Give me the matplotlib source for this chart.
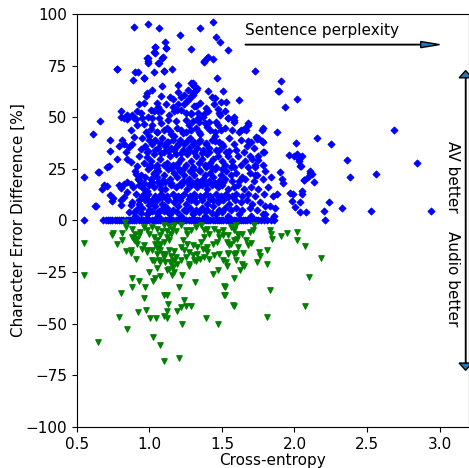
import matplotlib
matplotlib.use("Agg")
import matplotlib.pyplot as plt

# blue: AV better (diamonds)
av_x = [
    0.896, 0.993, 1.063, 1.347, 1.435, 1.21, 1.458, 1.486, 1.54, 1.285, 1.109, 1.116,
    1.037, 1.032, 1.095, 1.065, 0.991, 0.991, 1.03, 1.1, 1.155, 0.903, 0.92, 0.886,
    0.965, 0.776, 1.377, 1.40, 1.465, 0.611, 0.66, 0.648, 0.551, 0.63,
    1.731, 1.905, 1.889, 1.896, 2.016, 1.933, 1.62, 2.685, 2.155, 2.25, 2.01, 1.877,
    1.783, 2.847, 2.359, 2.562, 2.384, 2.0, 2.05, 2.03, 2.044, 2.107, 2.11, 2.067,
    2.137, 2.05, 2.05, 1.99, 1.986, 2.04, 2.007, 2.04, 2.08, 2.238, 2.206, 2.331,
    2.525, 2.94, 1.863, 1.898, 1.914, 1.92, 1.97, 1.88, 1.794, 1.794, 1.79, 1.75,
    1.69, 1.78, 1.73, 1.73, 1.68, 1.655, 1.736, 1.74, 1.68,
    1.963, 2.02, 2.03, 2.04, 2.118, 2.095, 2.065, 1.778, 1.776, 1.78, 1.78, 1.75,
    1.665, 1.63, 1.586, 1.54,
    1.04, 1.113, 1.037, 0.986, 0.99, 1.09, 1.062, 0.773, 0.963, 1.102,
    1.194, 1.287, 1.31, 1.269, 1.299, 1.322, 1.241, 1.218, 1.09, 1.021, 0.986, 0.975,
    1.079, 1.113, 1.16, 1.194, 1.241, 1.275, 1.31, 1.333, 1.287, 1.218, 1.171, 1.137,
    1.079, 1.056, 1.032, 1.009, 0.963, 0.928, 0.917, 0.94, 0.882, 0.843, 0.801, 0.824,
    0.847, 0.894, 0.951, 1.021, 1.067, 1.125, 1.19, 1.252, 1.299, 1.345,
    1.405, 1.378, 1.435, 1.297, 1.308, 1.32, 1.297, 1.331, 1.285, 1.401, 1.452, 1.505,
    1.493, 1.528, 1.447, 1.32, 1.389, 1.401, 1.373, 1.482, 1.489, 1.544, 1.586, 1.285,
    1.336, 1.343, 1.412, 1.459, 1.678,
    0.731, 0.813, 0.824, 0.789, 0.731, 0.778, 0.72, 0.704, 0.65, 0.627, 0.685, 0.708,
    0.674, 0.731, 0.75, 0.743, 0.789, 0.801, 0.824, 0.847, 0.87, 0.847, 0.824, 0.801,
    0.801, 0.87, 0.859, 0.894, 0.917, 0.928, 0.963, 0.986, 0.951, 0.928, 0.905, 0.917,
    0.87, 0.847, 0.836, 0.859, 0.882, 0.894, 0.87, 0.917, 0.847, 0.801, 0.905, 0.963,
    0.975, 0.998, 0.94, 0.986, 1.009, 1.032, 1.056, 1.079, 1.09, 1.102, 1.125, 1.067,
    1.021, 0.998,
    1.02, 1.08, 1.12, 1.18, 1.22, 1.27, 1.32, 1.38, 1.42, 1.47, 1.52, 1.57, 1.62, 1.05,
    1.15, 1.25, 1.35, 1.45,
    0.95, 1.0, 1.04, 1.09, 1.13, 1.17, 1.21, 1.24, 1.28, 1.31, 1.35, 1.39, 1.43, 1.48,
    1.51, 1.55, 1.58, 1.63, 1.67, 1.7, 0.97, 1.02, 1.06, 1.11, 1.15, 1.19, 1.23, 1.27,
    1.33, 1.37, 1.41, 1.46, 1.53, 1.6, 1.65, 1.72,
    0.93, 0.98, 1.03, 1.07, 1.1, 1.14, 1.18, 1.22, 1.26, 1.29, 1.32, 1.36, 1.4, 1.44,
    1.47, 1.5, 1.54, 1.57, 1.61, 1.66, 1.71, 1.75, 0.96, 1.01, 1.05, 1.12, 1.16, 1.2,
    1.25, 1.3, 1.34, 1.38, 1.42, 1.46, 1.52, 1.58, 1.63, 1.68, 1.73,
    0.9, 0.94, 0.99, 1.03, 1.06, 1.1, 1.13, 1.17, 1.21, 1.24, 1.28, 1.31, 1.35, 1.38,
    1.42, 1.45, 1.49, 1.53, 1.56, 1.6, 1.64, 1.69, 1.74, 1.8, 0.92, 0.97, 1.01, 1.05,
    1.09, 1.14, 1.19, 1.23, 1.27, 1.33, 1.37, 1.41, 1.44, 1.48, 1.52, 1.57, 1.62, 1.66,
    1.72, 1.78, 1.84,
    0.89, 0.93, 0.96, 1.0, 1.03, 1.07, 1.11, 1.15, 1.18, 1.22, 1.26, 1.29, 1.33, 1.36,
    1.4, 1.43, 1.47, 1.5, 1.54, 1.58, 1.61, 1.65, 1.7, 1.75, 1.82, 0.91, 0.95, 0.99,
    1.04, 1.08, 1.12, 1.16, 1.2, 1.24, 1.28, 1.31, 1.35, 1.39, 1.42, 1.46, 1.49, 1.53,
    1.57, 1.6, 1.64, 1.68, 1.73, 1.79, 1.85,
    0.88, 0.93, 0.97, 1.01, 1.05, 1.09, 1.13, 1.17, 1.21, 1.25, 1.29, 1.32, 1.36, 1.4,
    1.44, 1.47, 1.51, 1.55, 1.59, 1.63, 1.67, 1.71, 1.76, 0.95, 1.0, 1.04, 1.08, 1.12,
    1.16, 1.2, 1.24, 1.28, 1.32, 1.36, 1.4, 1.44, 1.48, 1.52, 1.56, 1.6, 1.64, 1.69,
    1.74, 1.83,
    0.9, 0.98, 1.06, 1.14, 1.22, 1.3, 1.38, 1.46, 1.54, 1.62, 1.7, 1.78, 1.86,
    1.05, 1.14, 1.2, 1.26, 1.35, 1.43, 1.47, 1.25, 1.16, 1.06, 0.99, 1.37, 1.52, 1.58,
    1.01, 1.05, 1.1, 1.14, 1.19, 1.23, 1.29, 1.34, 1.4, 1.45, 1.49,
    1.03, 1.07, 1.12, 1.16, 1.2, 1.26, 1.3, 1.34, 1.39, 1.45, 1.5,
    0.99, 1.04, 1.08, 1.13, 1.17, 1.22, 1.27, 1.31, 1.36, 1.41, 1.48, 1.55,
    1.0, 1.05, 1.1, 1.15, 1.19, 1.24, 1.3, 1.34, 1.39, 1.43, 1.5, 1.56,
    0.96, 1.02, 1.07, 1.11, 1.15, 1.21, 1.26, 1.3, 1.35, 1.39, 1.45, 1.51,
    0.98, 1.03, 1.07, 1.12, 1.18, 1.22, 1.27, 1.31, 1.37, 1.42, 1.48, 1.54,
    0.94, 1.0, 1.05, 1.1, 1.14, 1.19, 1.25, 1.3, 1.34, 1.38, 1.43, 1.5,
]
av_y = [
    93.5, 95.2, 93.3, 93.3, 96.0, 89.7, 89.1, 86.3, 82.6, 83.3, 86.5, 83.6,
    83.9, 81.5, 79.1, 76.4, 78.8, 76.5, 72.0, 72.6, 73.4, 72.0, 72.0, 68.0,
    68.8, 73.4, 77.0, 78.8, 68.9, 42.0, 48.0, 23.4, 21.0, 7.0,
    72.4, 67.6, 62.6, 62.6, 58.8, 55.2, 58.4, 43.6, 40.0, 36.8, 37.4, 42.8,
    44.6, 27.6, 29.4, 22.4, 20.8, 31.0, 31.0, 29.0, 26.2, 22.8, 24.0, 19.4,
    18.6, 14.5, 13.0, 13.0, 9.2, 8.7, 6.5, 4.0, 4.0, 8.7, 4.7, 6.1,
    4.8, 4.7, 6.0, 23.4, 19.9, 18.0, 13.2, 13.0, 6.8, 3.2, 33.0, 29.4,
    31.0, 27.0, 26.0, 22.0, 46.0, 44.4, 40.3, 39.6, 38.7,
    31.8, 32.0, 29.9, 26.2, 22.6, 21.0, 19.4, 44.0, 38.7, 38.0, 33.0, 40.0,
    44.0, 43.6, 48.6, 49.6,
    84.1, 83.6, 81.2, 78.8, 77.1, 78.8, 76.4, 73.4, 68.8, 72.6,
    65.5, 66.7, 65.1, 63.4, 61.0, 63.4, 61.0, 59.7, 65.1, 63.0, 61.8, 60.2,
    60.2, 56.2, 58.6, 56.2, 56.2, 58.6, 55.4, 52.1, 52.1, 53.7, 52.9, 51.3,
    52.9, 52.9, 52.9, 53.7, 57.0, 56.2, 52.9, 52.1, 51.3, 51.3, 52.9, 49.7,
    49.7, 49.7, 49.7, 49.7, 49.7, 48.9, 53.7, 48.9, 48.1, 49.7,
    79.1, 77.2, 78.3, 66.7, 65.1, 63.4, 61.8, 64.3, 60.2, 62.6, 59.4, 62.6,
    57.5, 57.5, 56.2, 55.4, 54.6, 52.9, 51.7, 52.1, 51.3, 49.7, 47.7, 51.7,
    49.7, 47.7, 47.7, 47.7, 47.2,
    38.8, 38.8, 37.1, 36.0, 33.4, 29.9, 26.6, 25.8, 23.4, 6.8, 17.0, 16.6,
    15.4, 12.1, 10.8, 9.2, 17.0, 15.7, 17.8, 18.6, 17.8, 13.7, 11.3, 10.1,
    7.3, 7.3, 4.0, 4.0, 5.7, 9.7, 12.9, 14.5, 16.2, 19.4, 22.6, 26.6,
    28.3, 29.9, 33.2, 35.5, 37.1, 40.4, 43.6, 46.0, 49.2, 50.0, 49.2, 46.8,
    42.8, 38.8, 34.7, 30.7, 26.6, 22.6, 18.6, 15.4, 11.3, 7.3, 4.0, 4.8,
    4.8, 7.3,
    46, 47, 45, 48, 44, 46, 45, 47, 44, 46, 45, 44, 43, 43,
    42, 43, 42, 41,
    40, 41, 39, 40, 38, 41, 39, 37, 40, 38, 39, 37, 39, 38,
    36, 40, 37, 39, 36, 38, 36, 37, 35, 36, 35, 36, 34, 35,
    35, 34, 35, 34, 33, 34, 33, 35,
    31, 33, 32, 30, 33, 31, 32, 30, 32, 29, 31, 30, 32, 30,
    31, 29, 31, 29, 31, 29, 30, 31, 28, 29, 27, 28, 27, 28,
    27, 26, 28, 27, 28, 26, 27, 26, 27, 26, 27,
    24, 22, 25, 23, 24, 22, 25, 23, 24, 22, 24, 22, 24, 22,
    23, 25, 22, 24, 22, 23, 21, 23, 22, 24, 20, 21, 20, 21,
    19, 20, 21, 19, 20, 19, 20, 19, 21, 19, 20, 19, 19, 20,
    19, 20, 21,
    16, 17, 15, 17, 16, 17, 15, 17, 16, 17, 15, 17, 16, 17,
    15, 17, 16, 17, 15, 16, 17, 15, 16, 15, 16, 13, 12, 13,
    12, 13, 12, 13, 12, 13, 12, 13, 12, 13, 12, 13, 12, 13,
    12, 13, 12, 13, 12, 13, 12,
    9, 8, 10, 9, 10, 8, 10, 9, 10, 8, 10, 9, 10, 8,
    10, 9, 10, 8, 10, 9, 10, 8, 9, 6, 5, 7, 5, 6,
    5, 7, 5, 6, 5, 6, 5, 7, 5, 6, 5, 6, 5, 6,
    5, 7,
    2, 3, 2, 3, 2, 3, 2, 3, 2, 3, 2, 3, 2,
    57, 60, 62, 58, 57, 60, 54, 52, 55, 55, 50, 50, 53, 50,
    44.5, 43, 44, 43.5, 45, 42.5, 44, 43, 45.5, 43, 44,
    38.5, 37.5, 38, 39, 37, 38.5, 37, 38, 37.5, 38.5, 37,
    33.5, 34, 32.5, 33.5, 34, 32.5, 33.5, 33, 32.5, 33, 34, 33.5,
    26.5, 25.5, 27, 25.5, 26, 25.5, 25, 24.5, 26, 25.5, 25, 26,
    18, 18.5, 17.5, 18.5, 18, 17.5, 18.5, 18, 18.5, 17.5, 18, 18.5,
    10.5, 11, 11.5, 10.5, 11, 11.5, 10.5, 11, 11.5, 10.5, 11, 11.5,
    3.5, 4, 3.5, 4.5, 3.5, 4, 4.5, 3.5, 4, 4.5, 3.5, 4,
]

# blue points sitting exactly on zero
zero_x = [
    0.551, 0.68, 0.70, 0.715, 0.73, 0.745, 0.76, 0.775, 0.79, 0.805, 0.82, 0.835,
    0.85, 0.865, 0.88, 0.895, 0.91, 0.925, 0.94, 0.955, 0.97, 0.985, 1.0, 1.015,
    1.03, 1.045, 1.06, 1.075, 1.09, 1.105, 1.12, 1.135, 1.15, 1.165, 1.18, 1.195,
    1.21, 1.225, 1.24, 1.255, 1.27, 1.285, 1.30, 1.315, 1.33, 1.345, 1.36, 1.375,
    1.39, 1.405, 1.42, 1.435, 1.45, 1.465, 1.48, 1.495, 1.51, 1.525, 1.54, 1.555,
    1.57, 1.585, 1.60, 1.615, 1.63, 1.645, 1.66, 1.675, 1.69, 1.705, 1.72, 1.735,
    1.75, 1.77, 1.79, 1.81, 1.84, 1.86, 2.21,
]

# green: audio better (triangles)
audio_x = [
    0.551, 0.551, 0.648, 1.099, 1.201, 1.023, 1.072, 0.845, 0.792, 0.919, 0.977, 1.007,
    1.046, 1.10, 1.12, 1.227, 1.389, 1.474, 0.803, 0.965, 1.097, 1.12, 1.127, 1.118,
    1.238, 1.215, 1.25, 1.285, 1.19, 1.203, 1.313, 0.882, 0.926, 0.882, 0.97, 1.023,
    1.04, 1.07, 1.0, 1.05, 1.157, 1.17, 1.227, 1.27, 1.32, 1.35, 1.438, 1.47,
    1.516, 1.516, 1.578,
    1.58, 1.81, 2.07, 1.833, 1.52, 1.52, 1.586, 2.10, 2.18, 2.074, 2.014, 2.02,
    1.95, 1.91, 1.845, 1.84, 1.83, 1.81, 1.752, 1.76, 1.81, 1.74, 1.64, 1.655,
    1.625, 1.6, 1.528, 1.535, 1.544, 1.55, 1.648, 1.6, 1.667, 1.70, 1.68, 1.609,
    1.604, 1.637, 1.69, 1.717, 1.724, 1.58, 1.56, 1.597, 1.533, 1.505,
    0.752, 0.74, 0.776, 0.81, 0.84, 0.875, 0.875, 0.907, 0.83, 0.84, 0.81,
    0.88, 0.903, 0.926, 0.88, 0.891, 0.915, 0.938, 0.984, 0.96, 0.995, 0.915, 0.96,
    0.984, 0.98, 0.95, 1.03, 1.035, 1.053, 1.065, 1.076, 1.1, 1.134, 1.123, 1.146,
    1.18, 1.157, 1.123, 1.088, 1.076, 1.053,
    1.018, 1.03, 1.065, 1.076, 1.11, 1.139, 1.157, 1.169, 1.15, 1.169, 1.134, 1.11,
    1.1, 1.118, 1.134, 1.165,
    1.215, 1.25, 1.262, 1.285, 1.319, 1.354, 1.373, 1.40, 1.412, 1.377, 1.354, 1.331,
    1.297, 1.262, 1.234, 1.215, 1.238, 1.273, 1.303, 1.331, 1.366, 1.40, 1.435, 1.465,
    1.481, 1.47, 1.447, 1.505, 1.54, 1.563, 1.585, 1.609, 1.54, 1.505, 1.447, 1.40,
    1.377, 1.412, 1.481, 1.585, 1.609, 1.585,
    1.018, 1.053, 1.1, 1.134, 1.169, 1.095, 1.076, 1.053, 1.018,
    1.18, 1.215, 1.25, 1.273, 1.308, 1.192,
]
audio_y = [
    -10.8, -26.6, -59.0, -68.3, -66.8, -56.5, -60.2, -52.5, -46.8, -44.6, -43.6, -47.1,
    -47.1, -46.5, -47.1, -50.2, -47.1, -50.2, -35.0, -37.8, -36.0, -36.0, -40.4, -44.1,
    -38.7, -42.0, -41.6, -41.3, -44.0, -32.4, -30.0, -27.9, -29.4, -32.4, -32.4, -29.4,
    -28.0, -26.8, -24.8, -23.0, -26.6, -25.0, -26.6, -22.0, -19.7, -18.5, -25.8, -24.0,
    -32.0, -36.3, -41.2,
    -41.5, -46.8, -41.5, -33.6, -32.3, -36.3, -27.9, -27.4, -18.4, -12.6, -9.7, -5.8,
    -6.0, -7.7, -8.9, -6.4, -4.5, -14.5, -15.4, -17.4, -21.0, -20.0, -21.0, -22.3,
    -23.9, -19.0, -20.2, -22.3, -15.8, -12.1, -15.6, -15.6, -9.7, -10.8, -12.1, -7.3,
    -8.9, -6.4, -5.7, -4.5, -2.4, -4.5, -3.2, -2.4, -10.5, -7.3,
    -6.1, -7.3, -11.3, -9.4, -14.9, -14.5, -15.6, -18.9, -1.0, -3.0, -6.0,
    -4.0, -6.8, -7.3, -8.1, -9.7, -8.9, -5.7, -4.8, -3.2, -6.8, -11.6, -12.1,
    -14.2, -15.5, -14.0, -8.1, -11.3, -13.2, -12.9, -11.6, -10.6, -9.4, -7.8, -6.5,
    -5.2, -4.0, -5.2, -5.2, -7.3, -9.7,
    -19.4, -19.7, -19.4, -20.2, -20.2, -20.2, -20.2, -19.4, -17.4, -15.0, -14.5, -16.1,
    -17.8, -24.2, -23.4, -22.6,
    -2.4, -4.8, -6.5, -4.5, -3.2, -2.4, -4.8, -4.0, -6.5, -8.1, -10.5, -12.9,
    -12.1, -11.3, -9.7, -12.9, -14.5, -15.3, -16.9, -16.1, -13.7, -12.9, -11.3, -10.5,
    -8.1, -5.7, -4.0, -4.8, -7.3, -11.3, -9.7, -12.9, -16.1, -19.4, -16.9, -15.3,
    -17.8, -18.6, -16.1, -16.1, -6.5, -4.0,
    -3.2, -4.0, -2.4, -2.9, -2.4, -16.1, -14.5, -16.1, -14.5,
    -17.8, -19.4, -17.8, -21.0, -19.4, -21.0,
]

fig = plt.figure(figsize=(4.69, 4.68), dpi=100)
ax = fig.add_axes([0.164, 0.088, 0.835, 0.882])

ax.scatter(av_x, av_y, marker="D", s=12, linewidths=0.8, color="b")
ax.scatter(zero_x, [0] * len(zero_x), marker="D", s=12, linewidths=0.8, color="b")
ax.scatter(audio_x, audio_y, marker="v", s=16, linewidths=0.8, color="g")

ax.set_xlim(0.5, 3.2)
ax.set_ylim(-100, 100)
ax.set_yticks([-100, -75, -50, -25, 0, 25, 50, 75, 100])
ax.set_xticks([0.5, 1.0, 1.5, 2.0, 2.5, 3.0])
ax.tick_params(labelsize=11)
ax.set_xlabel("Cross-entropy", fontsize=11, labelpad=1)
ax.set_ylabel("Character Error Difference [%]", fontsize=11, labelpad=0)

# direction hints
ax.text(1.66, 92, "Sentence perplexity", fontsize=11, va="center", ha="left")
ax.arrow(1.66, 85.2, 1.34, 0, width=0.2, head_width=3, head_length=0.13,
         length_includes_head=True, fc="C0", ec="k", lw=1)
ax.arrow(3.18, 0, 0, 72.6, width=0.002, head_width=0.09, head_length=3.5,
         length_includes_head=True, fc="C0", ec="k", lw=1)
ax.arrow(3.18, 0, 0, -72.6, width=0.002, head_width=0.09, head_length=3.5,
         length_includes_head=True, fc="C0", ec="k", lw=1)
ax.text(3.09, 21, "AV better", fontsize=11, rotation=-90, ha="center", va="center")
ax.text(3.09, -28, "Audio better", fontsize=11, rotation=-90, ha="center", va="center")

fig.savefig("out.png", dpi=100)
